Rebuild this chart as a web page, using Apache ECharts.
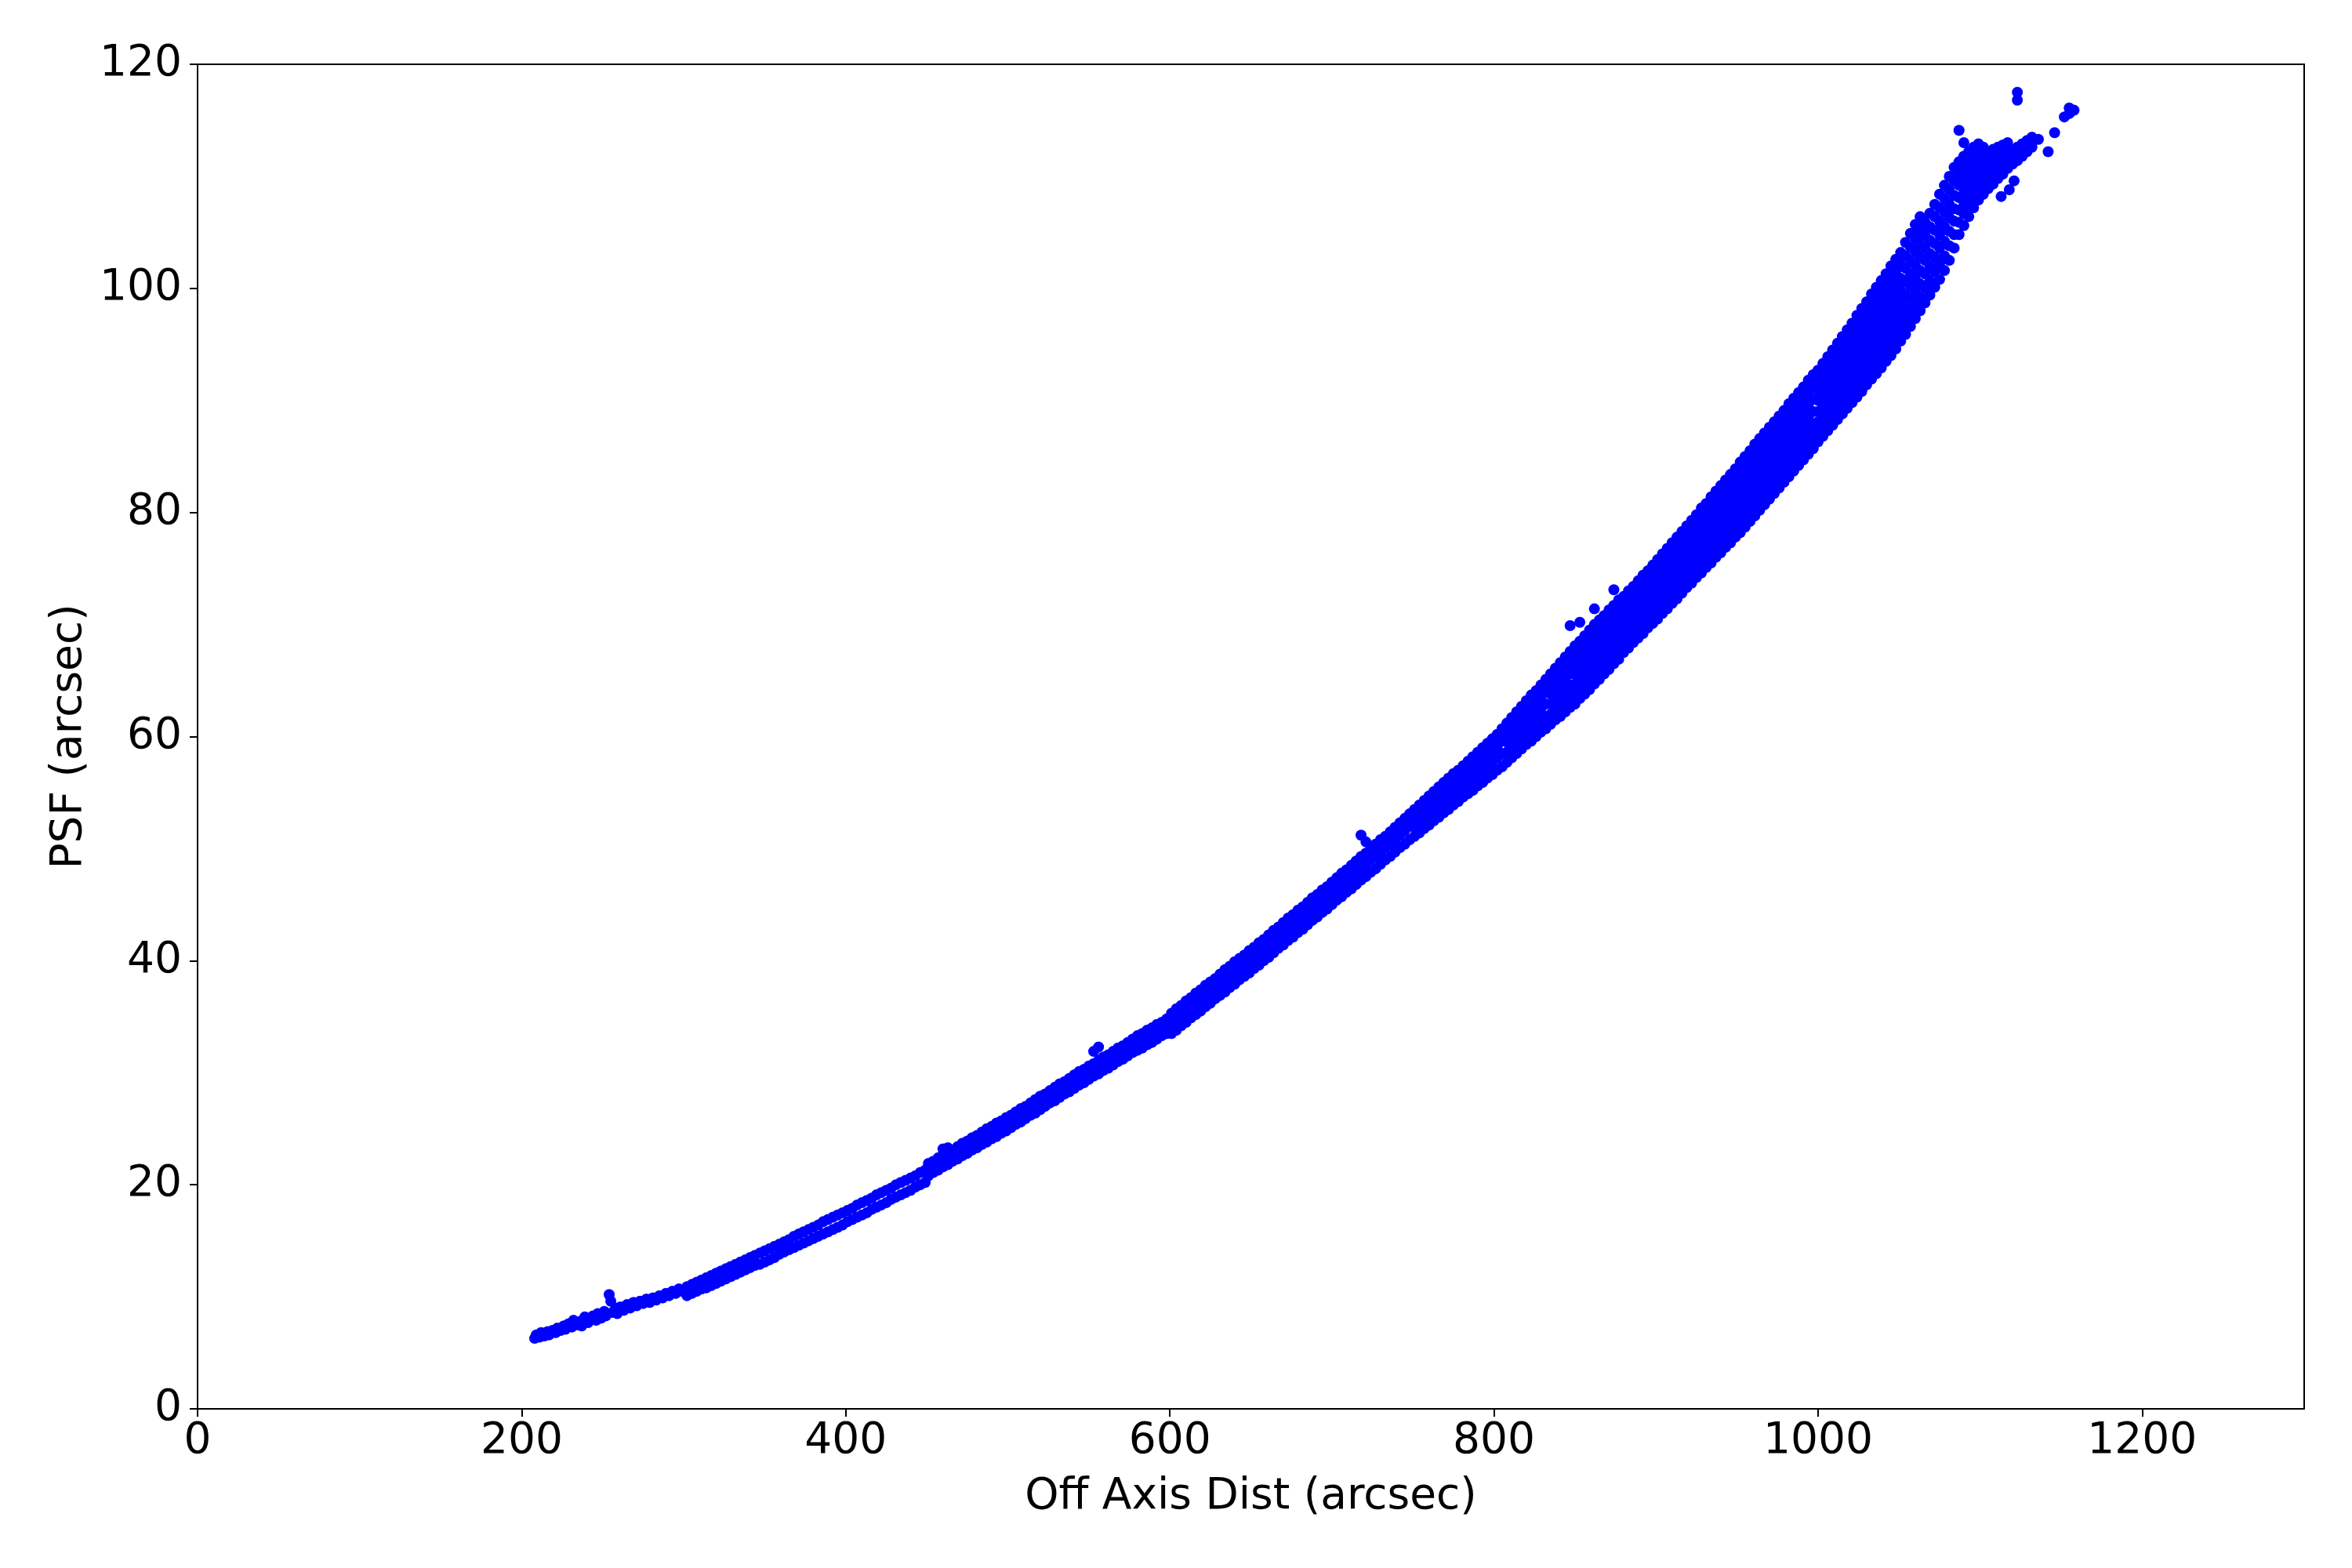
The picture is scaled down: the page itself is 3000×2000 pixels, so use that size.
<!DOCTYPE html>
<html>
<head>
<meta charset="utf-8">
<script src="https://cdn.jsdelivr.net/npm/echarts@6/dist/echarts.min.js"></script>
<style>
html,body{margin:0;padding:0;background:#fff;}
#chart{width:3000px;height:2000px;}
</style>
</head>
<body>
<div id="chart"></div>
<script>
// Tick labels
const xTicks = [0, 200, 400, 600, 800, 1000, 1200];
const yTicks = [0, 20, 40, 60, 80, 100, 120];

// Each row: [off-axis distance, psf values read at about that distance...]
const band200to300 = [
[208,6.3],[209,6.6],[211,6.4],[212,6.8],[214,6.5],[216,6.9],[217,6.6],[219,7.0],[221,6.8],[222,7.2],
[224,7.0],[226,7.4],[227,7.1],[229,7.6],[231,7.3],[232,7.9],[234,7.5],[236,7.8],[237,7.4],[239,8.2],
[241,7.7],[242,8.0],[244,8.3],[246,7.9],[247,8.5],[249,8.1],[251,8.7],[252,8.3],[254,10.2],[255,9.6],
[256,8.6],[258,9.0],[259,8.5],[261,9.1],[263,8.8],[265,9.3],[267,9.0],[269,9.5],[271,9.2],[273,9.6],
[275,9.4],[277,9.8],[279,9.5],[281,9.9],[283,9.7],[285,10.1],[287,9.9],[289,10.3],[291,10.1],[293,10.5],
[295,10.3],[297,10.7],[299,10.5]
];
const band300to450 = [
[302,10.1,10.9],[305,10.3,11.1],[308,10.5,11.3],[311,10.7,11.5],[314,10.8,11.7],[317,11.0,11.9],
[320,11.2,12.1],[323,11.4,12.3],[326,11.6,12.5],[329,11.8,12.7],[332,12.0,12.9],[335,12.2,13.1],
[338,12.4,13.3],[341,12.6,13.5],[344,12.8,13.7],[347,12.9,13.9],[350,13.1,14.1],[353,13.3,14.3],
[356,13.5,14.5],[359,13.8,14.7],[362,14.0,14.9],[365,14.2,15.1],[368,14.4,15.4],[371,14.6,15.6],
[374,14.8,15.8],[377,15.0,16.0],[380,15.2,16.2],[383,15.4,16.4],[386,15.6,16.7],[389,15.8,16.9],
[392,16.0,17.1],[395,16.2,17.3],[398,16.4,17.5],[401,16.7,17.7],[404,16.9,17.9],[407,17.1,18.2],
[410,17.3,18.4],[413,17.5,18.6],[416,17.8,18.8],[419,18.0,19.1],[422,18.2,19.3],[425,18.4,19.5],
[428,18.7,19.7],[431,18.9,20.0],[434,19.1,20.2],[437,19.3,20.4],[440,19.5,20.6],[443,19.8,20.8],
[446,20.0,21.1],[449,20.2,21.3]
];
const band450to600 = [
[451,20.8,21.3,21.9],[454,21.1,21.6,22.1],[457,21.3,21.9,22.4],[460,21.6,22.1,22.7,23.2],[463,21.8,22.4,22.9,23.3],
[466,22.1,22.6,23.1],[469,22.3,22.9,23.4],[472,22.6,23.1,23.7],[475,22.8,23.4,23.9],[478,23.1,23.6,24.2],
[481,23.3,23.9,24.4],[484,23.6,24.1,24.7],[487,23.8,24.4,25.0],[490,24.1,24.6,25.2],[493,24.3,24.9,25.5],
[496,24.6,25.1,25.7],[499,24.8,25.4,26.0],[502,25.1,25.6,26.2],[505,25.4,25.9,26.5],[508,25.6,26.2,26.8],
[511,25.9,26.4,27.0],[514,26.2,26.7,27.3],[517,26.4,27.0,27.6],[520,26.7,27.3,27.9],[523,27.0,27.5,28.1],
[526,27.3,27.8,28.4],[529,27.5,28.1,28.7],[532,27.8,28.4,29.0],[535,28.1,28.6,29.2],[538,28.3,28.9,29.5],
[541,28.6,29.2,29.8],[544,28.9,29.5,30.1],[547,29.1,29.7,30.3],[550,29.4,30.0,30.6],[553,29.7,30.2,30.8,31.9],
[556,29.9,30.5,31.1,32.3],[559,30.2,30.8,31.4],[562,30.4,31.0,31.6],[565,30.7,31.3,31.9],[568,31.0,31.6,32.2],
[571,31.2,31.8,32.4],[574,31.5,32.1,32.7],[577,31.8,32.4,33.0],[580,32.0,32.6,33.3],[583,32.2,32.9,33.5],
[586,32.5,33.1,33.8],[589,32.7,33.4,34.0],[592,33.0,33.6,34.3],[595,33.3,33.9,34.5],[598,33.5,34.1,34.8]
];
const band600to750 = [
[601,33.5,34.5,35.3],[604,33.8,34.8,35.7],[607,34.2,35.1,36.0],[610,34.5,35.5,36.4],[613,34.9,35.8,36.7],
[616,35.2,36.2,37.1],[619,35.5,36.5,37.4],[622,35.9,36.8,37.8],[625,36.2,37.2,38.1],[628,36.6,37.5,38.4],
[631,36.9,37.9,38.8],[634,37.2,38.2,39.2],[637,37.6,38.5,39.5],[640,37.9,38.9,39.9],[643,38.3,39.2,40.2],
[646,38.6,39.6,40.5],[649,38.9,39.9,40.9],[652,39.3,40.3,41.2],[655,39.6,40.6,41.6],[658,40.0,41.0,41.9],
[661,40.3,41.3,42.3],[664,40.7,41.7,42.7],[667,41.1,42.1,43.0],[670,41.4,42.4,43.4],[673,41.8,42.8,43.8],
[676,42.1,43.1,44.1],[679,42.5,43.5,44.5],[682,42.8,43.9,44.8],[685,43.2,44.2,45.2],[688,43.6,44.6,45.6],
[691,43.9,44.9,45.9],[694,44.3,45.3,46.3],[697,44.6,45.7,46.6],[700,45.0,46.0,47.0],[703,45.4,46.4,47.4],
[706,45.7,46.8,47.8],[709,46.1,47.1,48.1],[712,46.4,47.5,48.5],[715,46.8,47.9,48.9],[718,47.2,48.2,49.3,51.2],
[721,47.5,48.6,49.6,50.6],[724,47.9,49.0,50.0],[727,48.2,49.3,50.4],[730,48.6,49.7,50.8],[733,49.0,50.1,51.1],
[736,49.3,50.4,51.5],[739,49.7,50.8,51.9],[742,50.1,51.2,52.3],[745,50.4,51.6,52.7],[748,50.8,52.0,53.1]
];
const band750to880 = [
[751,51.1,51.9,52.7,53.5],[754,51.4,52.3,53.1,53.9],[757,51.8,52.6,53.5,54.3],[760,52.1,53.0,53.8,54.7],
[763,52.5,53.4,54.2,55.1],[766,52.8,53.7,54.6,55.5],[769,53.2,54.1,55.0,55.9],[772,53.5,54.4,55.4,56.3],
[775,53.9,54.8,55.7,56.7],[778,54.2,55.2,56.1,57.0],[781,54.6,55.5,56.5,57.4],[784,54.9,55.9,56.8,57.8],
[787,55.2,56.2,57.2,58.2],[790,55.6,56.6,57.6,58.6],[793,55.9,57.0,58.0,59.0],[796,56.3,57.3,58.3,59.4],
[799,56.6,57.7,58.7,59.8],[802,57.0,58.1,59.1,60.2],[805,57.3,58.5,59.6,60.7],
[808,57.7,58.6,59.5,60.3,61.2],[811,58.1,59.0,59.9,60.8,61.7],[814,58.5,59.4,60.3,61.3,62.2],
[817,58.9,59.8,60.8,61.7,62.7],[820,59.3,60.3,61.2,62.2,63.2],[823,59.6,60.6,61.6,62.7,63.7],
[826,60.0,61.0,62.0,63.1,64.1],[829,60.4,61.4,62.5,63.5,64.6],[832,60.7,61.8,62.9,64.0,65.1],
[835,61.1,62.0,62.9,63.8,64.7,65.6],[838,61.5,62.4,63.3,64.3,65.2,66.1],[841,61.8,62.8,63.7,64.7,65.6,66.6],
[844,62.2,63.2,64.2,65.1,66.1,67.1],[847,62.6,63.6,64.6,65.6,66.6,67.6,69.9],
[850,62.9,63.8,64.7,65.6,66.4,67.3,68.1],[853,63.4,64.3,65.1,66.0,66.8,67.7,68.5,70.2],
[856,63.8,64.7,65.5,66.4,67.3,68.1,69.0],[859,64.2,65.1,66.0,66.9,67.7,68.6,69.5],
[862,64.7,65.6,66.5,67.4,68.2,69.1,70.0,71.4],[865,65.1,66.0,66.9,67.8,68.6,69.5,70.4],
[868,65.6,66.5,67.3,68.2,69.1,69.9,70.8],[871,66.0,66.9,67.8,68.7,69.5,70.4,71.3],
[874,66.5,67.4,68.2,69.1,70.0,70.8,71.7,73.1],[877,66.9,67.8,68.7,69.6,70.4,71.3,72.2]
];
const band880to1000 = [
[880,67.5,68.3,69.2,70.0,70.8,71.7,72.5],[883,67.9,68.8,69.6,70.5,71.3,72.2,73.0],
[886,68.4,69.2,70.1,70.9,71.7,72.6,73.4],[889,68.8,69.7,70.5,71.4,72.2,73.1,73.9],
[892,69.2,70.1,70.9,71.8,72.7,73.5,74.4],[895,69.7,70.5,71.4,72.3,73.1,74.0,74.8],
[898,70.1,71.0,71.8,72.7,73.6,74.4,75.3],[901,70.5,71.4,72.3,73.2,74.0,74.9,75.8],
[904,71.0,71.9,72.8,73.6,74.5,75.4,76.3],[907,71.4,72.3,73.2,74.1,75.0,75.9,76.8],
[910,71.9,72.8,73.7,74.6,75.5,76.4,77.3],[913,72.3,73.2,74.1,75.1,76.0,76.9,77.8],
[916,72.8,73.7,74.6,75.6,76.5,77.4,78.3],[919,73.3,74.2,75.1,76.0,77.0,77.9,78.8],
[922,73.7,74.6,75.6,76.5,77.4,78.4,79.3],[925,74.2,75.1,76.1,77.0,77.9,78.9,79.8],
[928,74.6,75.6,76.5,77.5,78.5,79.4,80.4],[931,75.1,76.0,77.0,78.0,78.9,79.9,80.8],
[934,75.5,76.5,77.5,78.5,79.4,80.4,81.4],[937,76.0,77.0,78.0,78.9,79.9,80.9,81.9],
[940,76.4,77.4,78.4,79.4,80.4,81.4,82.4],[943,76.9,77.9,78.9,79.9,80.9,81.9,82.9],
[946,77.3,78.3,79.3,80.4,81.4,82.4,83.4],[949,77.8,78.8,79.8,80.8,81.9,82.9,83.9],
[952,78.2,79.3,80.3,81.4,82.4,83.5,84.5],[955,78.7,79.8,80.8,81.9,82.9,84.0,85.0],
[958,79.2,80.3,81.3,82.4,83.4,84.5,85.5],[961,79.7,80.8,81.8,82.9,84.0,85.0,86.1],
[964,80.2,81.3,82.3,83.4,84.5,85.5,86.6],[967,80.7,81.8,82.8,83.9,85.0,86.0,87.1],
[970,81.2,82.3,83.3,84.4,85.5,86.5,87.6],[973,81.7,82.8,83.8,84.9,86.0,87.0,88.1],
[976,82.2,83.3,84.3,85.4,86.5,87.5,88.6],[979,82.7,83.8,84.8,85.9,87.0,88.0,89.1],
[982,83.2,84.3,85.4,86.5,87.5,88.6,89.7],[985,83.7,84.8,85.9,87.0,88.0,89.1,90.2],
[988,84.2,85.3,86.4,87.5,88.5,89.6,90.7],[991,84.7,85.8,86.9,88.0,89.0,90.1,91.2],
[994,85.2,86.3,87.4,88.5,89.6,90.7,91.8],[997,85.7,86.8,87.9,89.0,90.1,91.2,92.3]
];
const band1000to1160 = [
[1000,86.3,87.2,88.1,89.0,90.0,90.9,91.8,92.7],[1003,86.8,87.7,88.7,89.6,90.5,91.4,92.4,93.3],
[1006,87.3,88.2,89.2,90.1,91.1,92.0,93.0,93.9],[1009,87.8,88.8,89.7,90.7,91.6,92.6,93.5,94.5],
[1012,88.3,89.3,90.2,91.2,92.2,93.2,94.1,95.1],[1015,88.8,89.8,90.8,91.8,92.7,93.7,94.7,95.7],
[1018,89.3,90.3,91.3,92.3,93.3,94.3,95.3,96.3],[1021,89.8,90.8,91.8,92.8,93.9,94.9,95.9,96.9],
[1024,90.3,91.3,92.4,93.4,94.5,95.5,96.6,97.6],[1027,90.8,91.9,92.9,94.0,95.0,96.1,97.1,98.2],
[1030,91.4,92.5,93.5,94.6,95.6,96.7,97.7,98.8],[1033,91.9,93.0,94.1,95.2,96.2,97.3,98.4,99.5],
[1036,92.4,93.5,94.6,95.7,96.8,97.9,99.0,100.1],[1039,92.9,94.0,95.1,96.2,97.4,98.5,99.6,100.7],
[1042,93.5,94.6,95.7,96.8,98.0,99.1,100.2,101.3],[1045,94.0,95.1,96.3,97.4,98.6,99.7,100.9,102.0],
[1048,94.6,95.7,96.9,98.0,99.2,100.3,101.5,102.6],[1051,95.3,96.4,97.6,98.7,99.8,100.9,102.1,103.2],
[1054,95.9,97.1,98.2,99.4,100.6,101.8,102.9,104.1],[1057,96.6,97.8,99.0,100.2,101.3,102.5,103.7,104.9],
[1060,97.3,98.5,99.7,100.9,102.1,103.3,104.5,105.7],[1063,98.0,99.2,100.4,101.6,102.8,104.0,105.2,106.4],
[1066,98.7,100.0,101.3,102.5,103.6,104.8,105.9],[1069,99.4,100.7,102.0,103.1,104.3,105.5,106.7],
[1072,100.1,101.5,102.8,104.0,105.2,106.4,107.5],[1075,100.8,102.2,103.6,104.8,106.0,107.2,108.4],
[1078,101.6,102.9,104.2,105.5,106.8,108.0,109.2],[1081,102.5,103.8,105.1,106.3,107.5,108.8,110.0],
[1084,103.6,104.8,106.0,107.1,108.3,109.6,110.8],[1087,104.8,105.9,107.0,108.1,109.2,110.3,111.3,114.1],
[1090,105.6,106.7,107.7,108.8,109.8,110.8,111.8,113.0],[1093,106.4,107.4,108.4,109.4,110.4,111.3,112.2],
[1096,107.2,108.1,109.0,110.0,110.9,111.8,112.6],[1099,107.9,108.8,109.6,110.5,111.3,112.1,112.9],
[1102,108.4,109.3,110.2,111.0,111.8,112.6],[1105,108.9,109.8,110.6,111.4,112.1],
[1108,109.3,110.2,111.0,111.7,112.4],[1111,109.8,110.6,111.3,112.0,112.6],[1113,108.2],
[1114,110.2,111.0,111.7,112.3,112.8],[1117,110.7,111.4,112.0,112.5,113.0],[1118,108.8],
[1120,111.1,111.7,112.3],[1121,109.6],[1123,111.4,112.0,112.6,116.8,117.5],
[1126,111.8,112.3,112.9],[1129,112.2,112.7,113.2],[1132,112.6,113.0,113.5],[1136,113.3],[1142,112.2],
[1146,113.9],[1152,115.3],[1155,115.6,116.1],[1158,115.9]
];

const allBands = [band200to300, band300to450, band450to600, band600to750, band750to880, band880to1000, band1000to1160];
const points = [];
allBands.forEach(function (band) {
  band.forEach(function (row) {
    for (let i = 1; i < row.length; i++) points.push([row[0], row[i]]);
  });
});

const FONT = 'DejaVu Sans';
const chart = echarts.init(document.getElementById('chart'), null, {renderer: 'canvas'});
chart.setOption({
  animation: false,
  backgroundColor: '#ffffff',
  grid: {
    left: 252, top: 82, right: 61, bottom: 203,
    show: true, borderColor: '#000000', borderWidth: 2, backgroundColor: 'transparent'
  },
  xAxis: {
    type: 'value', min: 0, max: 1300, interval: 200,
    name: 'Off Axis Dist (arcsec)', nameLocation: 'middle', nameGap: 85,
    nameTextStyle: {fontFamily: FONT, fontSize: 55, color: '#000'},
    axisLine: {show: true, onZero: false, lineStyle: {color: '#000', width: 2}},
    axisTick: {show: true, inside: false, length: 10, lineStyle: {color: '#000', width: 2}, customValues: xTicks},
    axisLabel: {fontFamily: FONT, fontSize: 55, color: '#000', margin: 14, customValues: xTicks,
      formatter: function (v) { return String(v); }},
    splitLine: {show: false}
  },
  yAxis: {
    type: 'value', min: 0, max: 120, interval: 20,
    name: 'PSF (arcsec)', nameLocation: 'middle', nameGap: 135,
    nameTextStyle: {fontFamily: FONT, fontSize: 55, color: '#000'},
    axisLine: {show: true, onZero: false, lineStyle: {color: '#000', width: 2}},
    axisTick: {show: true, inside: false, length: 10, lineStyle: {color: '#000', width: 2}, customValues: yTicks},
    axisLabel: {fontFamily: FONT, fontSize: 55, color: '#000', margin: 20, customValues: yTicks,
      formatter: function (v) { return String(v); }},
    splitLine: {show: false}
  },
  series: [{
    type: 'scatter',
    data: points,
    symbol: 'circle',
    symbolSize: 14,
    itemStyle: {color: '#0000ff', opacity: 1},
    large: false,
    silent: true
  }]
});
</script>
</body>
</html>
